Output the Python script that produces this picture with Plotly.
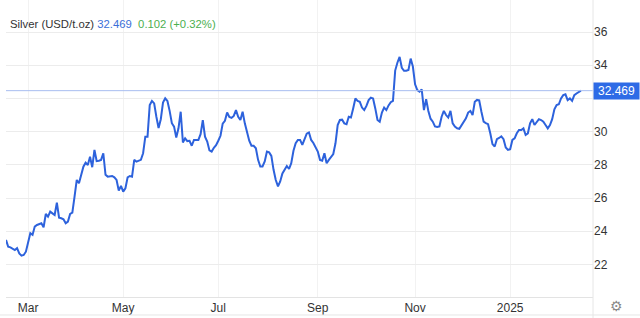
import pandas as pd
import plotly.graph_objects as go

# ---- data ----
start_session = "2024-02-16"
price = [
    23.48, 23.07, 23.03, 22.97, 22.87, 22.98, 22.67, 22.53, 22.57, 22.77,
    23.28, 23.88, 23.78, 24.28, 24.38, 24.42, 24.48, 24.24, 25.04, 24.88,
    25.18, 25.08, 24.98, 25.72, 24.82, 24.78, 24.72, 24.48, 24.58, 25.04,
    25.12, 26.08, 27.09, 26.89, 27.49, 27.89, 28.13, 27.99, 28.49, 27.86,
    28.90, 28.23, 28.25, 28.30, 28.70, 27.40, 27.29, 27.30, 27.33, 27.25,
    27.09, 26.45, 26.73, 26.39, 26.59, 27.25, 27.33, 27.29, 28.30, 28.19,
    28.25, 28.30, 28.70, 29.70, 29.70,
    31.60, 31.85, 31.70, 30.90, 30.22, 30.75, 31.75, 32.01, 31.85, 31.25,
    30.51, 30.30, 29.65, 30.20, 31.20, 29.35, 29.60, 29.43, 29.45, 29.15,
    29.50, 29.50, 29.50, 29.85, 30.70,
    29.70, 29.40, 28.87, 28.80, 29.03, 29.18, 29.45, 29.75, 30.48, 30.65,
    31.15, 30.89, 30.83, 30.95, 31.30, 30.90, 30.70, 31.20, 30.50, 29.95,
    29.45, 29.15, 29.15, 29.00, 28.30, 27.90, 27.90, 28.20, 28.80, 28.75,
    28.54, 27.70, 27.09, 26.70, 27.00, 27.48, 27.70, 27.93, 27.75, 28.10,
    28.85, 29.30, 29.50, 29.50, 29.20, 29.50, 29.88, 29.95, 29.50, 29.32,
    29.10, 28.80, 28.30, 28.25, 28.70, 28.10, 28.30, 28.50, 28.65, 29.30,
    30.40, 30.70, 30.72, 30.50, 30.45, 30.90, 30.85, 31.40, 32.00, 31.85,
    31.80, 31.45, 31.30, 31.55, 31.90, 32.05, 32.00, 31.40, 30.70, 30.60,
    31.15, 31.45, 31.30, 31.58, 31.77, 31.85, 33.68, 34.15, 34.50, 33.85,
    33.67, 33.67, 33.72, 34.40, 33.92,
    32.85, 32.50, 32.41, 32.55, 31.30, 31.95, 31.25, 30.78, 30.60, 30.32,
    30.28, 30.32, 30.90, 31.25, 31.00,
    30.85, 31.25, 30.50, 30.30, 30.20, 30.17, 30.40, 30.58, 30.80, 31.15,
    31.25, 31.00, 31.80,
    31.91, 31.88, 31.20, 30.60, 30.52, 30.45, 29.90,
    29.25, 29.10, 29.55, 29.62, 29.72, 29.55, 29.05,
    28.90, 28.94, 29.50, 29.60, 29.90, 30.10, 30.10, 30.20, 29.80, 29.90,
    30.50, 30.75, 30.40, 30.60, 30.75, 30.70, 30.60, 30.40, 30.20, 30.40,
    30.75, 31.35, 31.60, 31.65, 32.00, 32.20, 32.25, 31.90, 32.00, 31.85,
    32.20, 32.30, 32.40, 32.469,
]
last_price = "32.469"
change = "0.102 (+0.32%)"
title_name = "Silver (USD/t.oz)"
# Sep 1 2024 falls on a Sunday (weekend break) -> first session Sep 2
x_tick_vals = ["2024-03-01", "2024-05-01", "2024-07-01", "2024-09-02", "2024-11-01", "2025-01-01"]
x_tick_text = ["Mar", "May", "Jul", "Sep", "Nov", "2025"]
y_tick_vals = [22, 24, 26, 28, 30, 32, 34, 36]
y_tick_text = ["22", "24", "26", "28", "30", "", "34", "36"]  # 32 hidden under price tag

sessions = pd.bdate_range(start_session, periods=len(price))

LINE = "#2d62dc"
FONT = "Arial, Liberation Sans, sans-serif"

fig = go.Figure()
fig.add_trace(go.Scatter(x=sessions, y=price, mode="lines",
                         line=dict(color=LINE, width=2), hoverinfo="skip"))

fig.update_layout(
    width=640, height=318,
    margin=dict(l=6, r=47, t=0, b=21),
    paper_bgcolor="white", plot_bgcolor="white",
    showlegend=False,
    font=dict(family=FONT, size=12, color="#333333"),
)
fig.update_xaxes(
    range=["2024-02-16", "2025-02-21 11:00"],
    rangebreaks=[dict(bounds=["sat", "mon"])],
    tickvals=x_tick_vals, ticktext=x_tick_text,
    showgrid=True, gridcolor="#f2f2f2", gridwidth=1,
    showline=True, linecolor="#e3e3e3", linewidth=1,
    ticks="", zeroline=False,
    tickfont=dict(size=12, color="#333333"),
)
fig.update_yaxes(
    range=[20.04, 37.93], side="right",
    tickvals=y_tick_vals, ticktext=y_tick_text,
    showgrid=True, gridcolor="#ececec", gridwidth=1,
    showline=False, ticks="", zeroline=False,
    tickfont=dict(size=12, color="#333333"),
)

# last-price line
fig.add_shape(type="line", xref="paper", yref="y", x0=0, x1=1,
              y0=price[-1], y1=price[-1], line=dict(color="#a8bdf0", width=1))
# right separator and bottom border
fig.add_shape(type="line", xref="paper", yref="paper", x0=1, x1=1, y0=-0.08, y1=1,
              line=dict(color="#e6e6e6", width=1))
fig.add_shape(type="line", xref="paper", yref="paper", x0=-0.02, x1=1.09,
              y0=-0.0606, y1=-0.0606, line=dict(color="#e6e6e6", width=1))

# price tag
fig.add_annotation(xref="paper", yref="y", x=1, y=price[-1], xanchor="left",
                   yanchor="middle", text=last_price, showarrow=False,
                   bgcolor="#2e6be6", font=dict(color="white", size=12, family=FONT),
                   width=43, height=14, borderpad=1, align="center")

# header
fig.add_annotation(xref="paper", yref="paper", x=2 / 587, y=1 - 24 / 297,
                   xanchor="left", yanchor="middle", showarrow=False,
                   text=(f"<span style='color:#333333'>{title_name}</span> "
                         f"<span style='color:#3a6fd8'>{last_price}</span>  "
                         f"<span style='color:#4caf50'>{change}</span>"),
                   font=dict(size=11.3, family=FONT))

# settings gear
fig.add_annotation(xref="paper", yref="paper", x=(616 - 6) / 587, y=-(306 - 297) / 297,
                   xanchor="center", yanchor="middle", showarrow=False,
                   text="\u2699", font=dict(size=14, color="#8a8a8a", family="DejaVu Sans"))

fig.write_html("out.html")
